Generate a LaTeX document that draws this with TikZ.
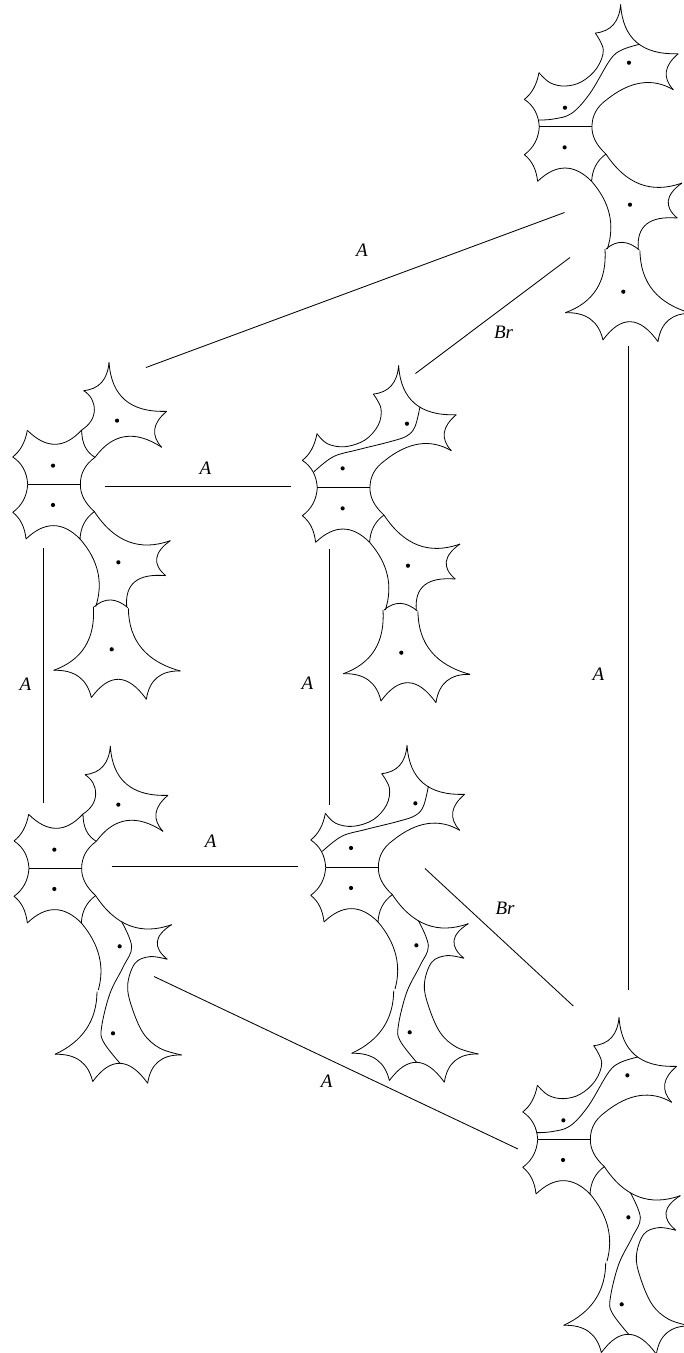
\documentclass[tikz,border=0pt]{standalone}
\usepackage{fontspec}
\setmainfont{Liberation Serif}
\usetikzlibrary{positioning,calc}
% curve from (1,2) through (3,4) at its middle to (5,6)
\newcommand{\bow}[6]{(#1,#2) .. controls ({(4*(#3)-(#5))/3},{(4*(#4)-(#6))/3}) and ({(4*(#3)-(#1))/3},{(4*(#4)-(#2))/3}) .. (#5,#6)}
\tikzset{
  every pic/.style={scale=1/3},
  outline/.style={line width=0.8pt,smooth,tension=0.6},
  link/.style={line width=0.85pt},
  puncture/.style={circle,fill,inner sep=0pt,minimum size=4.2pt},
  gluelabel/.style={font=\itshape\fontsize{19}{19}\selectfont},
  core/.pic={
    \draw[outline] (0,0) -- (158,0);
    \draw[outline] \bow{0}{0}{-13}{-48}{-45}{-82} \bow{-45}{-82}{-17}{-115}{-1}{-162};
    \draw[outline] \bow{168}{-281}{222}{-306}{244}{-367}
      \bow{244}{-367}{292}{-253}{417}{-219}
      \bow{417}{-219}{381}{-165}{402}{-111};
    \draw[outline] \bow{202}{-81}{169}{-45}{158}{0}
      \bow{158}{0}{168}{42}{200}{82}
      \bow{200}{82}{302}{172}{428}{169};
    \draw[outline] \bow{0}{0}{-13}{48}{-45}{84}
      \bow{-45}{84}{-18}{117}{-5}{164}
      \bow{-5}{164}{77}{124}{157}{164}
      \bow{157}{164}{169}{117}{200}{82};
    \node[puncture] at (76,62) {};
  },
  upperplain/.pic={
    \draw[outline] \bow{-1}{-162}{82}{-120}{162}{-163}
      \bow{162}{-163}{190}{-190}{200}{-223}
      \bow{200}{-223}{192}{-256}{168}{-281}
      \bow{162}{-163}{172}{-113}{202}{-81}
      \bow{402}{-111}{292}{-143}{202}{-81};
    \node[puncture] at (76,-56) {};
    \node[puncture] at (268,-191) {};
  },
  uppers/.pic={
    \draw[outline] plot coordinates {(-1,-162) (32,-132) (77,-122) (127,-135) (172,-175) (192,-230) (168,-281)};
    \draw[outline] plot coordinates {(-3,-20) (42,-23) (97,-40) (152,-100) (212,-200) (247,-230) (300,-247)};
    \draw[outline] \bow{402}{-111}{305}{-131}{202}{-81};
    \node[puncture] at (77,-57) {};
    \node[puncture] at (269,-192) {};
  },
  uppertwist/.pic={
    \draw[outline] plot coordinates {(-1,-162) (30,-132) (83,-123) (143,-143) (183,-188) (191,-238) (168,-281)};
    \draw[outline] plot coordinates {(-10,-48) (48,-93) (118,-113) (218,-138) (268,-155) (293,-183) (308,-243)};
    \draw[outline] \bow{402}{-111}{305}{-131}{202}{-81};
    \node[puncture] at (76,-58) {};
    \node[puncture] at (269,-192) {};
  },
  lowerplain/.pic={
    \draw[outline] \bow{428}{169}{387}{222}{414}{274}
      \bow{414}{274}{322}{292}{297}{367}
      \bow{157}{164}{210}{262}{204}{367}
      \bow{200}{367}{249}{347}{300}{370}
      \bow{197}{367}{172}{487}{78}{558}
      \bow{302}{372}{342}{492}{458}{560};
    \node[puncture] at (272,234) {};
    \node[puncture] at (252,495) {};
  },
  lowermerged/.pic={
    \draw[outline] \bow{428}{169}{385}{220}{415}{273}
      plot coordinates {(415,273) (363,265) (318,285) (296,350) (308,415) (343,495) (393,540) (458,560)}
      \bow{157}{164}{210}{262}{208}{365}
      \bow{204}{370}{172}{482}{78}{558}
      plot coordinates {(278,160) (308,235) (283,295) (243,375) (218,475) (223,520) (273,585)};
    \node[puncture] at (272,234) {};
    \node[puncture] at (252,495) {};
  },
  bottomlobes/.pic={
    \draw[outline] \bow{78}{558}{153}{577}{191}{640}
      \bow{191}{640}{273}{585}{356}{645}
      \bow{356}{645}{388}{580}{458}{560};
  }
}

\begin{document}
\begin{tikzpicture}[x=1pt,y=-1pt]
  \useasboundingbox (0,0) rectangle (684,1353);
  % surfaces
  \coordinate (tr) at (539.3,126.7);
  \coordinate (ml) at (27.7,484.3);
  \coordinate (mm) at (317.3,487.7);
  \coordinate (ll) at (29,868.3);
  \coordinate (lm) at (325.7,867.3);
  \coordinate (br) at (537.7,1139.3);
  \pic at (tr) {core};
  \pic at (tr) {uppers};
  \pic at (tr) {lowerplain};
  \pic at (tr) {bottomlobes};
  \pic at (ml) {core};
  \pic at (ml) {upperplain};
  \pic at (ml) {lowerplain};
  \pic at (ml) {bottomlobes};
  \pic at (mm) {core};
  \pic at (mm) {uppertwist};
  \pic at (mm) {lowerplain};
  \pic at (mm) {bottomlobes};
  \pic at (ll) {core};
  \pic at (ll) {upperplain};
  \pic at (ll) {lowermerged};
  \pic at (ll) {bottomlobes};
  \pic at (lm) {core};
  \pic at (lm) {uppertwist};
  \pic at (lm) {lowermerged};
  \pic at (lm) {bottomlobes};
  \pic at (br) {core};
  \pic at (br) {uppers};
  \pic at (br) {lowermerged};
  \pic at (br) {bottomlobes};
  % ends of the links
  \coordinate (tra) at (564.5,212.5);
  \coordinate (trb) at (570,257.5);
  \coordinate (trc) at (628.3,346);
  \coordinate (mla) at (146,367.5);
  \coordinate (mlb) at (105,486);
  \coordinate (mlc) at (43.5,547.5);
  \coordinate (mma) at (415.5,373.5);
  \coordinate (mmb) at (291,486);
  \coordinate (mmc) at (329.5,549);
  \coordinate (lla) at (43.5,802.5);
  \coordinate (llb) at (111.5,866);
  \coordinate (llc) at (154,976.5);
  \coordinate (lma) at (329.5,804.5);
  \coordinate (lmb) at (298,866);
  \coordinate (lmc) at (425,868.5);
  \coordinate (bra) at (573.3,1006);
  \coordinate (brb) at (628.3,990);
  \coordinate (brc) at (518,1149);
  \draw[link] (tra) -- (mla);
  \draw[link] (trb) -- (mma);
  \draw[link] (trc) -- (brb);
  \draw[link] (mlb) -- (mmb);
  \draw[link] (mlc) -- (lla);
  \draw[link] (mmc) -- (lma);
  \draw[link] (llb) -- (lmb);
  \draw[link] (lmc) -- (bra);
  \draw[link] (llc) -- (brc);
  % labels
  \node[gluelabel] (lab1) at (362,250) {A};
  \node[gluelabel] (lab2) at (503.5,332.5) {Br};
  \node[gluelabel] (lab3) at (205.5,468.5) {A};
  \node[gluelabel] (lab4) at (25.5,684) {A};
  \node[gluelabel] (lab5) at (307.5,683.5) {A};
  \node[gluelabel] (lab6) at (598.5,674) {A};
  \node[gluelabel] (lab7) at (210.7,841) {A};
  \node[gluelabel] (lab8) at (505,908) {Br};
  \node[gluelabel] (lab9) at (326.7,1081) {A};
\end{tikzpicture}
\end{document}
